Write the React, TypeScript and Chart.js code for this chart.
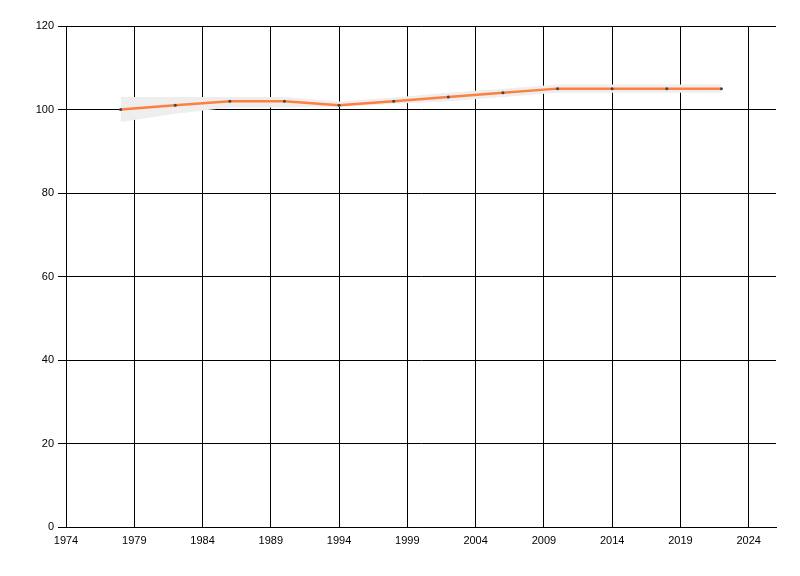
import { Chart, registerables } from "chart.js";
import { useRef, useEffect } from "react";

Chart.register(...registerables);

// years of the measurements
const years = [1978, 1982, 1986, 1990, 1994, 1998, 2002, 2006, 2010, 2014, 2018, 2022];
// main series
const values = [100, 101, 102, 102, 101, 102, 103, 104, 105, 105, 105, 105];
// shaded range around the series
const lower = [97, 99, 100.5, 100.5, 100.6, 101.4, 102, 103, 104, 104, 104, 104];
const upper = [103, 103, 103, 103, 101.9, 102.9, 104, 105, 106, 106, 106, 106];
// axis ticks
const xTicks = [1974, 1979, 1984, 1989, 1994, 1999, 2004, 2009, 2014, 2019, 2024];
const yMin = 0;
const yMax = 120;
const yStep = 20;

const toPoints = (ys: number[]) => years.map((x, i) => ({ x, y: ys[i] }));

export default function App() {
  const chartRef = useRef<HTMLCanvasElement>(null);

  useEffect(() => {
    if (!chartRef.current) return;
    const ctx = chartRef.current.getContext("2d");
    if (!ctx) return;

    const font = { family: "'Liberation Sans', Arial, sans-serif", size: 11 };

    const chart = new Chart(ctx, {
      type: "line",
      data: {
        datasets: [
          {
            data: toPoints(values),
            borderColor: "#ff7f3f",
            borderWidth: 2.5,
            pointRadius: 1.5,
            pointBackgroundColor: "#444444",
            pointBorderWidth: 0,
            fill: false,
            tension: 0,
          },
          {
            data: toPoints(upper),
            borderWidth: 0,
            borderColor: "rgba(0,0,0,0)",
            pointRadius: 0,
            backgroundColor: "#eeeeee",
            fill: "+1",
            tension: 0,
          },
          {
            data: toPoints(lower),
            borderWidth: 0,
            borderColor: "rgba(0,0,0,0)",
            pointRadius: 0,
            fill: false,
            tension: 0,
          },
        ],
      },
      options: {
        responsive: false,
        animation: false,
        layout: { padding: { top: 26, right: 24, left: 0, bottom: 0 } },
        plugins: {
          legend: { display: false },
          tooltip: { enabled: false },
        },
        scales: {
          x: {
            type: "linear",
            min: 1974,
            max: 2026,
            afterBuildTicks: (scale) => {
              scale.ticks = xTicks.map((value) => ({ value }));
            },
            afterFit: (scale) => {
              scale.height = 49;
            },
            grid: { color: "#000", lineWidth: 1, drawTicks: false },
            border: { color: "#000", width: 1 },
            ticks: {
              color: "#000",
              font,
              padding: 7,
              maxRotation: 0,
              autoSkip: false,
              callback: (v) => `${v}`,
            },
          },
          y: {
            min: yMin,
            max: yMax,
            afterFit: (scale) => {
              scale.width = 66;
            },
            grid: { color: "#000", lineWidth: 1, tickLength: 8 },
            border: { color: "#000", width: 1 },
            ticks: {
              stepSize: yStep,
              color: "#000",
              font,
              padding: 4,
            },
          },
        },
      },
    });

    return () => {
      chart.destroy();
    };
  }, []);

  return (
    <div style={{ position: "absolute", left: 0, top: 0, width: 800, height: 576, background: "#fff" }}>
      <canvas ref={chartRef} width={800} height={576} style={{ display: "block" }} />
    </div>
  );
}
